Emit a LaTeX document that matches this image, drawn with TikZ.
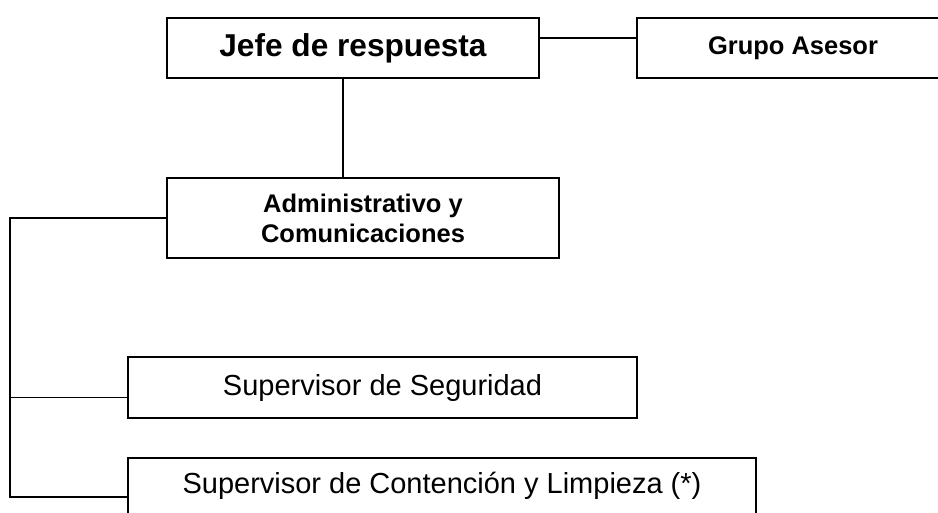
\documentclass[tikz,border=0pt]{standalone}
\usepackage{fontspec}
\setmainfont{Liberation Sans}
\begin{document}
\begin{tikzpicture}[x=0.02cm, y=-0.02cm,
	box/.style={draw, line width=1.1pt, inner sep=0pt, align=center},
	link/.style={line width=1pt},
	headfont/.style={font=\fontsize{18}{21}\selectfont\bfseries},
	subfont/.style={font=\fontsize{14.5}{17}\selectfont\bfseries},
	rolefont/.style={font=\fontsize{16.5}{19}\selectfont}]
	\useasboundingbox (0,0) rectangle (938,512);
	\node[box, headfont, minimum width=7.44cm, minimum height=1.2cm] (jefe) at (353,48) {Jefe de respuesta};
	\node[box, subfont, minimum width=6.24cm, minimum height=1.2cm] (grupo) at (793,48) {Grupo Asesor};
	\node[box, subfont, minimum width=7.84cm, minimum height=1.6cm] (admin) at (363,218) {Administrativo y\\Comunicaciones};
	\node[box, rolefont, minimum width=10.18cm, minimum height=1.22cm] (seg) at (382.5,387.5) {Supervisor de Seguridad};
	\node[box, rolefont, minimum width=12.56cm, minimum height=1.12cm] (cont) at (442,486) {Supervisor de Contención y Limpieza (*)};
	\coordinate (spine) at (10,218);
	\coordinate (segin) at ([yshift=-0.2cm]seg.west);
	\draw[link] ([yshift=0.2cm]jefe.east) -- ([yshift=0.2cm]grupo.west);
	\draw[link] ([xshift=-0.2cm]jefe.south) -- ([xshift=-0.2cm]jefe.south |- admin.north);
	\draw[link] (admin.west) -- (spine) |- ([yshift=-0.22cm]cont.west);
	\draw[link] (segin) -- (spine |- segin);
\end{tikzpicture}
\end{document}
